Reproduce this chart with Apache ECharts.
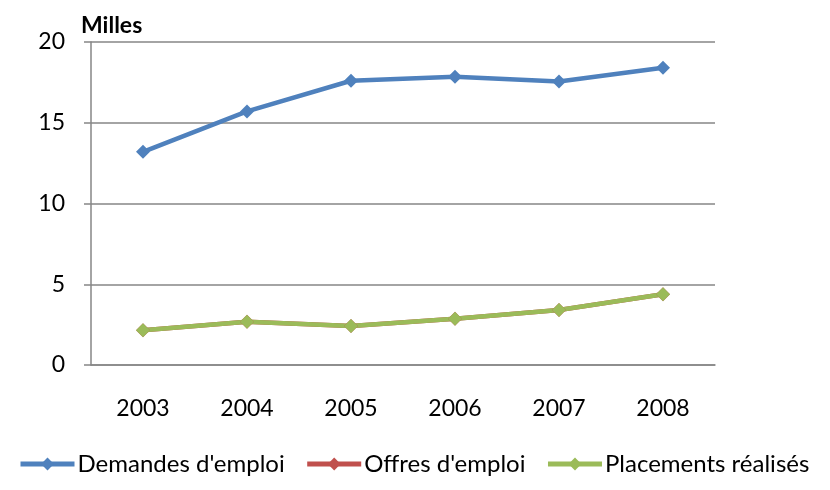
<!DOCTYPE html>
<html>
<head>
<meta charset="utf-8">
<script src="https://cdn.jsdelivr.net/npm/echarts@6/dist/echarts.min.js"></script>
<style>
  html, body { margin: 0; padding: 0; background: #fff; }
  #chart { width: 830px; height: 490px; }
</style>
</head>
<body>
<div id="chart"></div>
<script>
const years = ['2003', '2004', '2005', '2006', '2007', '2008']
const demandes = [13.2, 15.7, 17.6, 17.85, 17.55, 18.4]
const offres = [2.15, 2.68, 2.42, 2.86, 3.4, 4.38]
const placements = [2.15, 2.68, 2.42, 2.86, 3.4, 4.38]
const yTicks = [0, 5, 10, 15, 20]

const font = 'Lato, Open Sans, sans-serif'

const mkSeries = (name, data, color) => ({
  name,
  type: 'line',
  data,
  symbol: 'diamond',
  symbolSize: 14,
  lineStyle: { width: 4.5, color },
  itemStyle: { color },
  emphasis: { disabled: true },
  animation: false
})

const chart = echarts.init(document.getElementById('chart'))
chart.setOption({
  title: {
    text: 'Milles',
    left: 76,
    top: 9,
    textStyle: { fontFamily: font, fontSize: 23, fontWeight: 'bold', color: '#000' }
  },
  grid: { left: 91, right: 115, top: 42, bottom: 125 },
  legend: {
    bottom: 14,
    left: 18,
    width: 812,
    padding: 0,
    itemWidth: 54,
    itemHeight: 16,
    itemGap: 20,
    lineStyle: { width: 5 },
    textStyle: { fontFamily: font, fontSize: 24, color: '#000', padding: [0, 0, 0, -2] },
    data: ['Demandes d\'emploi', 'Offres d\'emploi', 'Placements réalisés']
  },
  xAxis: {
    type: 'category',
    data: years,
    boundaryGap: true,
    axisLine: { lineStyle: { color: '#868686', width: 1.5 } },
    axisTick: { length: 6, lineStyle: { color: '#868686', width: 1.5 } },
    axisLabel: { fontFamily: font, fontSize: 23, color: '#000', margin: 32 }
  },
  yAxis: {
    type: 'value',
    min: yTicks[0],
    max: yTicks[yTicks.length - 1],
    interval: 5,
    axisLine: { show: true, lineStyle: { color: '#868686', width: 1.5 } },
    axisTick: { show: true, length: 7, lineStyle: { color: '#868686', width: 1.5 } },
    splitLine: { lineStyle: { color: '#868686', width: 1.5 } },
    axisLabel: { fontFamily: font, fontSize: 23, color: '#000', margin: 26 }
  },
  series: [
    mkSeries('Demandes d\'emploi', demandes, '#4f81bd'),
    mkSeries('Offres d\'emploi', offres, '#c0504d'),
    mkSeries('Placements réalisés', placements, '#9bbb59')
  ]
})
</script>
</body>
</html>
